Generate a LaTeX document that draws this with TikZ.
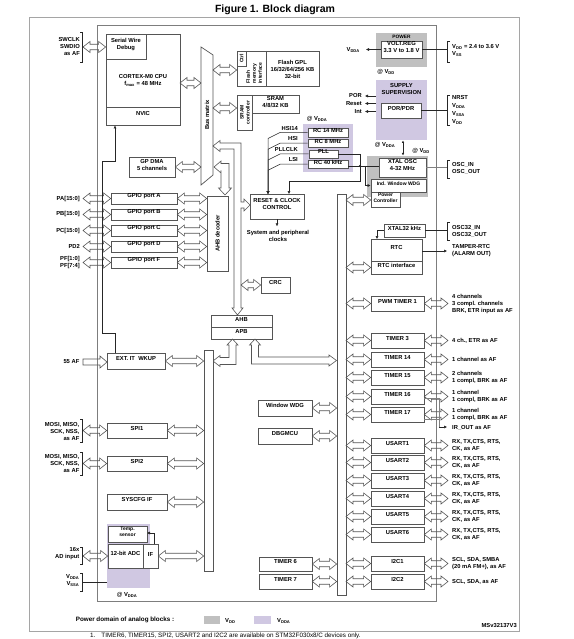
\documentclass[tikz,border=0pt]{standalone}
\usepackage{fontspec}
\setmainfont{Liberation Sans}
\usetikzlibrary{fit,calc,arrows.meta}
\definecolor{pur}{RGB}{208,200,226}
\definecolor{pgray}{RGB}{192,192,192}
\definecolor{frmo}{RGB}{165,165,165}
\definecolor{frmi}{RGB}{125,125,125}
\definecolor{bcol}{RGB}{85,85,85}
\newcommand\normfnt{\fontsize{5.8}{7}\selectfont\bfseries}
\newcommand\smallfnt{\fontsize{5}{6}\selectfont\bfseries}
\tikzset{
  blk/.style={draw=bcol, fill=white, line width=0.7pt, inner sep=0pt, font=\normfnt, align=center},
  reg/.style={inner sep=0pt, draw=none},
  fat/.style={draw=bcol, line width=0.6pt, line join=miter},
  txt/.style={font=\normfnt, inner sep=0pt, align=center},
  rtxt/.style={font=\normfnt, inner sep=0pt, align=left, anchor=west},
  ltxt/.style={font=\normfnt, inner sep=0pt, align=right, anchor=east},
  wire/.style={draw=black!85, line width=0.5pt},
  tip/.style={-{Latex[length=3pt,width=3pt]}},
}
\newcommand\mkbox[5][]{\node[blk,#1,fit={#3 #4}] (#2) {#5};}
\newcommand\dArr[2]{\path[fat] let \p1=#1, \p2=#2 in
  (\x1+7pt,\y1+2.75pt) -- (\x1+7pt,\y1+5.5pt) -- (\x1,\y1) -- (\x1+7pt,\y1-5.5pt) -- (\x1+7pt,\y1-2.75pt)
  -- (\x2-7pt,\y1-2.75pt) -- (\x2-7pt,\y1-5.5pt) -- (\x2,\y1) -- (\x2-7pt,\y1+5.5pt) -- (\x2-7pt,\y1+2.75pt) -- cycle;}
\newcommand\lbrk[3]{\draw[wire] (#1-2.5,#2) -- (#1,#2) -- (#1,#3) -- (#1-2.5,#3);}
\newcommand\rbrk[3]{\draw[wire] (#1+2.5,#2) -- (#1,#2) -- (#1,#3) -- (#1+2.5,#3);}
\begin{document}
\begin{tikzpicture}[x=1pt,y=-1pt]
\useasboundingbox (0,0) rectangle (573,639);
\clip (0,0) rectangle (573,639);
\node[font=\fontsize{10.5}{12}\selectfont\bfseries, inner sep=0pt] (title) at (275,10) {Figure 1. Block diagram};
\draw[draw=frmo, line width=0.8pt] (29,17) rectangle (519,631);
\draw[draw=frmi, line width=0.8pt] (97,25) rectangle (436,601);

% ---------- CPU ----------
\mkbox{cpu}{(106,34)}{(180,125)}{}
\mkbox{swd}{(106,34)}{(146,59)}{Serial Wire\\Debug}
\mkbox{nvic}{(106,107)}{(180,125)}{NVIC}
\node[txt] (cputxt) at (143,80) {CORTEX-M0 CPU\\f\textsubscript{max} = 48 MHz};
\node[ltxt] (swl) at (80,46.5) {SWCLK\\SWDIO\\as AF};
\lbrk{82.5}{32}{62}
\coordinate (swa) at (83,47);
\dArr{(swa)}{(swd.west)}

% ---------- bus matrix ----------
\draw[blk] (201,47) -- (213,55) -- (213,175) -- (201,185) -- cycle;
\node[txt, rotate=90] (bmx) at (207,115) {Bus matrix};
\coordinate (cpuA) at (180,83);
\dArr{(cpuA)}{(201,83)}

% ---------- Flash ----------
\mkbox{flash}{(237,51)}{(319,86)}{}
\mkbox{ctrl}{(237,51)}{(246,66)}{}
\node[txt, rotate=90, font=\smallfnt] (ctrlt) at (241.5,58.5) {Ctrl};
\draw[draw=bcol, line width=0.7pt] (266,51) -- (266,86);
\node[txt, rotate=90, font=\smallfnt, align=left] (fmi) at (254,73) {Flash\\memory\\interface};
\node[txt] (fgpl) at (292.5,69) {Flash GPL\\16/32/64/256 KB\\32-bit};
\coordinate (bmF) at (213,70);
\dArr{(bmF)}{(flash.west)}

% ---------- SRAM ----------
\mkbox{sramc}{(237,95)}{(252,130)}{}
\node[txt, rotate=90, font=\smallfnt] (sramct) at (245,112.5) {SRAM\\controller};
\mkbox{sram}{(252,95)}{(299,113)}{SRAM\\4/8/32 KB}
\coordinate (bmS) at (213,108);
\dArr{(bmS)}{(sramc.west)}

% ---------- DMA ----------
\mkbox{dma}{(129,157)}{(175,177)}{GP DMA\\5 channels}
\dArr{(dma.east)}{(201,167)}

% ---------- GPIO ----------
\mkbox{ahbd}{(207,196)}{(228,271)}{}
\node[txt, rotate=90] (ahbdt) at (217.5,233.5) {AHB decoder};
\foreach \q/\a/\b/\bt in {gpa/193/204/A, gpb/209/220/B, gpc/225/236/C, gpd/241/252/D, gpf/257/268/F}{
  \mkbox{\q}{(111,\a)}{(177,\b)}{GPIO port \bt}
  \coordinate (L\q) at (83,{(\a+\b)/2});
  \dArr{(L\q)}{(\q.west)}
  \dArr{(\q.east)}{(ahbd.west)}
}
\node[ltxt] (pa) at (80,198.5) {PA[15:0]};
\node[ltxt] (pb) at (80,214.5) {PB[15:0]};
\node[ltxt] (pc) at (80,230.5) {PC[15:0]};
\node[ltxt] (pd) at (80,246.5) {PD2};
\node[ltxt] (pf) at (80,262.5) {PF[1:0]\\PF[7:4]};

% ---------- system buses ----------
\draw[fat] (220,143) -- (241,143) -- (241,202) -- (244,202) -- (244,199) -- (250,205) -- (244,211) -- (244,208) -- (241,208)
  -- (241,308) -- (243,308) -- (237.5,315) -- (232,308) -- (234,308) -- (234,149) -- (220,149) -- (220,151.5) -- (213,146) -- (220,140.5) -- cycle;
\draw[fat] (221,163.5) -- (229,163.5) -- (229,188) -- (231.5,188) -- (225,195) -- (218.5,188) -- (221,188) -- (221,170.5)
  -- (221,173) -- (214,167) -- (221,161) -- cycle;

% ---------- RCC ----------
\mkbox{rcc}{(250,194)}{(304,219)}{RESET \& CLOCK\\CONTROL}
\draw[wire,tip] (rcc.south) -- ++(0,7);
\node[txt] (sysclk) at (278,235.5) {System and peripheral\\clocks};
\mkbox{crc}{(261,277)}{(290,293)}{CRC}
\coordinate (crcL) at (241,285);
\dArr{(crcL)}{(crc.west)}

% ---------- oscillators ----------
\node[reg, fill=pur, fit={(303,124) (353,172)}] (oscdom) {};
\node[txt] (atvdda1) at (317,119) {@ V\textsubscript{DDA}};
\mkbox{rc14}{(308,128)}{(348,137)}{RC 14 MHz}
\mkbox{rc8}{(308,139)}{(348,147.5)}{RC 8 MHz}
\mkbox{pll}{(309,150)}{(338,158)}{PLL}
\mkbox{rc40}{(308,160.5)}{(348,168)}{RC 40 kHz}
\node[ltxt] (lhsi14) at (298,128.5) {HSI14};
\node[ltxt] (lhsi) at (298,139) {HSI};
\node[ltxt] (lpllclk) at (298,150) {PLLCLK};
\node[ltxt] (llsi) at (298,160) {LSI};
\foreach \bb/\yy in {rc14/132.5, rc8/143.25, pll/154, rc40/164.25}{
  \draw[wire,tip] (\bb.west) -- (280,\yy) -- (268,\yy+6) -- (268,194);
}
\node[reg, circle, fill=black, minimum size=2.4pt] (dot) at (360,166) {};
\draw[wire,tip] (pll.east) -- (360,154) -- (360,181) -- (289,181) -- (289,194);

% ---------- power ----------
\node[reg, fill=pgray, fit={(376,33) (427,67)}] (pwrdom) {};
\node[txt, font=\fontsize{4.8}{6}\selectfont\bfseries] (pwrt) at (401.5,37) {POWER};
\mkbox{volt}{(381,41)}{(422,58)}{VOLT.REG\\3.3 V to 1.8 V}
\draw[wire,tip] (volt.west) -- (366,49.5);
\node[ltxt] (vdda0) at (360,50) {V\textsubscript{DDA}};
\node[txt] (atvdd0) at (386,71.5) {@ V\textsubscript{DD}};
\draw[wire] (volt.east) -- (447.5,49.5);
\rbrk{447.5}{41}{62}
\node[rtxt] (vddl) at (452,50) {V\textsubscript{DD} = 2.4 to 3.6 V\\V\textsubscript{SS}};

\node[reg, fill=pur, fit={(376,80) (427,140)}] (supdom) {};
\node[txt] (supt) at (401.5,89) {SUPPLY\\SUPERVISION};
\mkbox{por}{(381,103)}{(421,118)}{POR/PDR}
\foreach \yy/\bt/\nm in {96/POR/lpor, 103.5/Reset/lrst, 111.5/Int/lint}{
  \draw[wire,tip] (376,\yy) -- (365,\yy);
  \node[ltxt] (\nm) at (362,\yy) {\bt};
}
\draw[wire] (por.east) -- (447.5,110.5);
\rbrk{447.5}{95}{125}
\node[rtxt, font=\fontsize{5.8}{8}\selectfont\bfseries] (nrst) at (452,110) {NRST\\V\textsubscript{DDA}\\V\textsubscript{SSA}\\V\textsubscript{DD}};
\node[txt] (atvdda2) at (385,145) {@ V\textsubscript{DDA}};
\node[txt] (atvdd2) at (421,151) {@ V\textsubscript{DD}};
\draw[wire, {Latex[length=2.5pt,width=2.5pt]}-{Latex[length=2.5pt,width=2.5pt]}] (403,140.5) -- (403,155.5);

% ---------- XTAL ----------
\node[reg, fill=pgray, fit={(367,156) (428,197)}] (xdom) {};
\mkbox{xtal}{(379,158)}{(426,177)}{XTAL OSC\\4-32 MHz}
\mkbox[font=\smallfnt]{iwdg}{(371,179)}{(426,192)}{Ind. Window WDG}
\mkbox[font=\smallfnt]{pwrc}{(371,192)}{(400,207)}{Power\\Controller}
\draw[wire] (rc40.east |- dot) -- (xtal.west |- dot);
\draw[wire,tip] (365,166) -- (365,185.5) -- (iwdg.west);
\draw[draw=gray, line width=0.6pt] (xtal.east) -- (447.5,167.5);
\rbrk{447.5}{160}{178}
\node[rtxt] (osc) at (452,168.5) {OSC\_IN\\OSC\_OUT};

% ---------- APB bar ----------
\mkbox{apbbar}{(337,194)}{(346,595)}{}
\coordinate (pwA) at (346,200);
\dArr{(pwA)}{(pwrc.west)}

% ---------- RTC ----------
\mkbox{x32}{(384,224)}{(425,237)}{XTAL32 kHz}
\mkbox{rtc}{(371,239)}{(422,261)}{RTC}
\mkbox{rtci}{(371,261)}{(422,274)}{RTC interface}
\draw[wire,tip] (x32.west) -- (377,230.5) -- (377,239);
\draw[wire] (x32.east) -- (447.5,230.5);
\rbrk{447.5}{222}{240}
\node[rtxt] (osc32) at (452,231.5) {OSC32\_IN\\OSC32\_OUT};
\coordinate (tampA) at (447,251);
\draw[wire,tip] (rtc.east |- tampA) -- (tampA);
\node[rtxt] (tamper) at (452,250.5) {TAMPER-RTC\\(ALARM OUT)};
\coordinate (rtA) at (346,267.5);
\dArr{(rtA)}{(rtci.west)}

% ---------- AHB / APB ----------
\mkbox{ahb}{(211,315)}{(272,327)}{AHB}
\mkbox{apb}{(211,327)}{(272,339)}{APB}
\draw[fat] (232.5,339) -- (238,345) -- (236,345) -- (236,364.5) -- (220,364.5) -- (220,366.5) -- (213,361) -- (220,355.5) -- (220,357.5) -- (229,357.5) -- (229,345) -- (227,345) -- cycle;
\draw[fat] (255,339) -- (260.5,345) -- (258.5,345) -- (258.5,357) -- (329,357) -- (329,355) -- (336.5,360.5) -- (329,366) -- (329,364) -- (251.5,364) -- (251.5,345) -- (249.5,345) -- cycle;

% ---------- left bar & peripherals ----------
\mkbox{lbar}{(204,350)}{(213,571)}{}
\mkbox{exti}{(107,353)}{(165,369)}{EXT. IT\ \ WKUP}
\dArr{(exti.east)}{(lbar.west)}
\draw[fat] (83,359) -- (100,359) -- (100,356) -- (107,362) -- (100,368) -- (100,365) -- (83,365) -- cycle;
\node[ltxt] (af55) at (79.5,362) {55 AF};
\draw[wire,tip] (115,353) -- (115,333) -- (102,333) -- (102,161) -- (115,161) -- (115,125.5);

\mkbox{spi1}{(107,423)}{(167,438)}{SPI1}
\coordinate (Lspi1) at (83,430.5);
\dArr{(Lspi1)}{(spi1.west)}
\dArr{(spi1.east)}{(lbar.west)}
\lbrk{82.5}{419}{442}
\node[ltxt] (spi1l) at (79.5,431) {MOSI, MISO,\\SCK, NSS,\\as AF};

\mkbox{spi2}{(107,456)}{(167,471)}{SPI2}
\coordinate (Lspi2) at (83,463.5);
\dArr{(Lspi2)}{(spi2.west)}
\dArr{(spi2.east)}{(lbar.west)}
\lbrk{82.5}{452}{475}
\node[ltxt] (spi2l) at (79.5,463.5) {MOSI, MISO,\\SCK, NSS,\\as AF};

\mkbox{syscfg}{(107,494)}{(167,510)}{SYSCFG IF}
\dArr{(syscfg.east)}{(lbar.west)}

% ---------- ADC ----------
\node[reg, fill=pur, fit={(107,524) (150,588)}] (adcdom) {};
\mkbox[font=\smallfnt]{temp}{(108,526)}{(147,542)}{Temp.\\sensor}
\mkbox{adc}{(108,544)}{(143,568)}{12-bit ADC}
\mkbox{adcif}{(143,544)}{(158,568)}{IF}
\draw[wire,tip] (154,544) -- (154,533) -- (147,533);
\dArr{(adcif.east)}{(lbar.west)}
\coordinate (Ladc) at (83,556);
\dArr{(Ladc)}{(adc.west)}
\lbrk{82.5}{547}{564}
\node[ltxt] (adin) at (79.5,554) {16x\\AD input};
\lbrk{82.5}{573}{591}
\node[ltxt] (vddaadc) at (79.5,581) {V\textsubscript{DDA}\\V\textsubscript{SSA}};
\draw[wire] (82.5,582) -- (107,582);
\node[txt] (atvdda3) at (127,594.5) {@ V\textsubscript{DDA}};

% ---------- middle column ----------
\mkbox{wwdg}{(258,400)}{(312,416)}{Window WDG}
\mkbox{dbg}{(258,428)}{(312,444)}{DBGMCU}
\mkbox{tim6}{(259,557)}{(312,571)}{TIMER 6}
\mkbox{tim7}{(259,574)}{(312,589)}{TIMER 7}
\foreach \q in {wwdg,dbg,tim6,tim7}{\dArr{(\q.east)}{(apbbar.west)}}

% ---------- right peripherals ----------
\foreach \q/\yy/\bt/\lab in {
 pwm/303.5/{PWM TIMER 1}/{4 channels\\3 compl. channels\\BRK, ETR input as AF},
 tthree/340.5/{TIMER 3}/{4 ch., ETR as AF},
 tfourteen/359.5/{TIMER 14}/{1 channel as AF},
 tfifteen/377.5/{TIMER 15}/{2 channels\\1 compl, BRK as AF},
 tsixteen/396.5/{TIMER 16}/{1 channel\\1 compl, BRK as AF},
 tseventeen/414.5/{TIMER 17}/{1 channel\\1 compl, BRK as AF},
 uone/445.5/{USART1}/{RX, TX,CTS, RTS,\\CK, as AF},
 utwo/462.5/{USART2}/{RX, TX,CTS, RTS,\\CK, as AF},
 uthree/480.5/{USART3}/{RX, TX,CTS, RTS,\\CK, as AF},
 ufour/498.5/{USART4}/{RX, TX,CTS, RTS,\\CK, as AF},
 ufive/516.5/{USART5}/{RX, TX,CTS, RTS,\\CK, as AF},
 usix/534.5/{USART6}/{RX, TX,CTS, RTS,\\CK, as AF},
 ione/563.5/{I2C1}/{SCL, SDA, SMBA\\(20 mA FM+), as AF},
 itwo/581.5/{I2C2}/{SCL, SDA, as AF}}{
 \mkbox{\q}{(371,\yy-7.5)}{(424,\yy+7.5)}{\bt}
 \coordinate (A\q) at (346,\yy);
 \coordinate (B\q) at (448,\yy);
 \dArr{(A\q)}{(\q.west)}
 \dArr{(\q.east)}{(B\q)}
 \node[rtxt] (r\q) at (452,\yy) {\lab};
}
\draw[draw=gray, line width=0.6pt] (tsixteen.east |- 0,398.5) -- (439,398.5) -- (439,427);
\draw[draw=gray, line width=0.6pt] (tseventeen.east |- 0,419.5) -- (439,419.5);
\coordinate (irA) at (447,427);
\draw[wire,tip] (439,427) -- (irA);
\node[rtxt] (irout) at (452,427.5) {IR\_OUT as AF};

% ---------- legend ----------
\node[txt, font=\fontsize{6.3}{8}\selectfont\bfseries] (pdom) at (125,619.5) {Power domain of analog blocks :};
\node[reg, fill=pgray, minimum width=16pt, minimum height=8pt] (lgg) at (212,620) {};
\node[rtxt] (lggt) at (225,620.5) {V\textsubscript{DD}};
\node[reg, fill=pur, minimum width=17pt, minimum height=8pt] (lgp) at (262.5,620) {};
\node[rtxt] (lgpt) at (277,620.5) {V\textsubscript{DDA}};
\node[ltxt] (msv) at (517,625) {MSv32137V3};
\node[anchor=base west, inner sep=0pt, font=\fontsize{6.3}{7}\selectfont] (fn) at (90,637.3) {1.\hspace{6pt}TIMER6, TIMER15, SPI2, USART2 and I2C2 are available on STM32F030x8/C devices only.};
\end{tikzpicture}
\end{document}
